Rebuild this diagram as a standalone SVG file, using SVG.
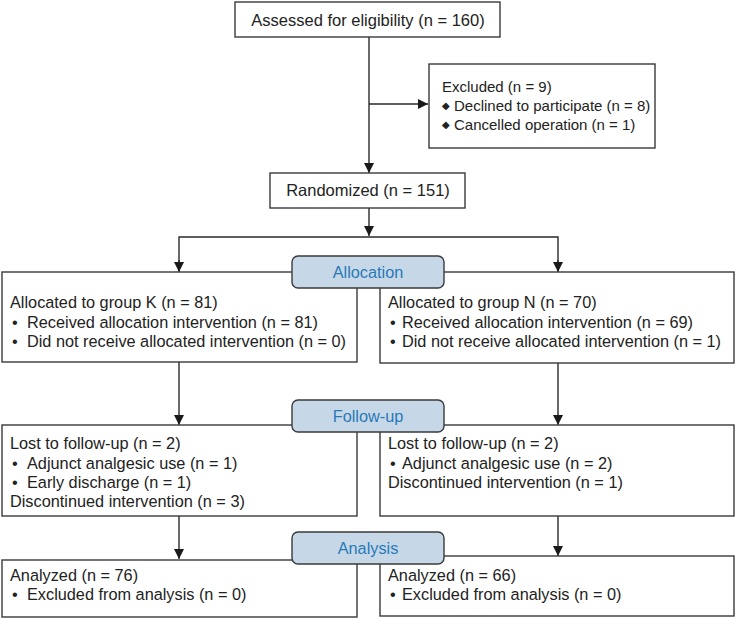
<svg xmlns="http://www.w3.org/2000/svg" width="735" height="619" viewBox="0 0 735 619">
<style>
.box{fill:#fff;stroke:#3a3a3a;stroke-width:1.4}
.lbl{fill:#c6d8e7;stroke:#3a3a3a;stroke-width:1.4}
.t{font-family:"Liberation Sans",Arial,sans-serif;font-size:16.3px;fill:#222}
.s{font-family:"Liberation Sans",Arial,sans-serif;font-size:15px;fill:#222}
.b{font-family:"Liberation Sans",Arial,sans-serif;font-size:16.5px;fill:#222;text-anchor:middle}
.lt{font-family:"Liberation Sans",Arial,sans-serif;font-size:16.3px;fill:#2a78b8;text-anchor:middle}
.ln{stroke:#2a2a2a;stroke-width:1.4;fill:none}
</style>
<defs>
<marker id="ah" viewBox="0 0 10 10" refX="10" refY="5" markerWidth="10" markerHeight="10" markerUnits="userSpaceOnUse" orient="auto">
<path d="M0,0 L10,5 L0,10 Z" fill="#1a1a1a"/>
</marker>
</defs>
<g id="connectors">
<line class="ln" x1="369" y1="37" x2="369" y2="173" marker-end="url(#ah)"/>
<line class="ln" x1="369" y1="104" x2="428" y2="104" marker-end="url(#ah)"/>
<line class="ln" x1="369" y1="208" x2="369" y2="236" marker-end="url(#ah)"/>
<polyline class="ln" points="179,271 179,237 558,237 558,271"/>
<line class="ln" x1="179" y1="260" x2="179" y2="272" marker-end="url(#ah)"/>
<line class="ln" x1="558" y1="260" x2="558" y2="272" marker-end="url(#ah)"/>
<line class="ln" x1="179" y1="362" x2="179" y2="425" marker-end="url(#ah)"/>
<line class="ln" x1="558" y1="363" x2="558" y2="425" marker-end="url(#ah)"/>
<line class="ln" x1="179" y1="516" x2="179" y2="559" marker-end="url(#ah)"/>
<line class="ln" x1="558" y1="516" x2="558" y2="556" marker-end="url(#ah)"/>
</g>
<g id="assessed">
<rect class="box" x="235" y="2" width="265" height="35"/>
<text class="b" x="368" y="26">Assessed for eligibility (n = 160)</text>
</g>
<g id="excluded">
<rect class="box" x="429" y="64" width="226" height="84"/>
<text class="s" x="442" y="92">Excluded (n = 9)</text>
<text class="s" x="442" y="111"><tspan font-size="10" dy="-2">◆</tspan><tspan dy="2" x="454">Declined to participate (n = 8)</tspan></text>
<text class="s" x="442" y="129.5"><tspan font-size="10" dy="-2">◆</tspan><tspan dy="2" x="454">Cancelled operation (n = 1)</tspan></text>
</g>
<g id="randomized">
<rect class="box" x="270" y="173" width="195" height="35"/>
<text class="b" x="368" y="196">Randomized (n = 151)</text>
</g>
<g id="groupK">
<rect class="box" x="2" y="272" width="355" height="90"/>
<text class="t" x="10" y="308">Allocated to group K (n = 81)</text>
<text class="t" x="12" y="328">•</text><text class="t" x="27" y="328">Received allocation intervention (n = 81)</text>
<text class="t" x="12" y="347">•</text><text class="t" x="27" y="347">Did not receive allocated intervention (n = 0)</text>
</g>
<g id="groupN">
<rect class="box" x="380" y="272" width="354" height="91"/>
<text class="t" x="388" y="308">Allocated to group N (n = 70)</text>
<text class="t" x="390" y="328">•</text><text class="t" x="402" y="328">Received allocation intervention (n = 69)</text>
<text class="t" x="390" y="347">•</text><text class="t" x="402" y="347">Did not receive allocated intervention (n = 1)</text>
</g>
<g id="allocation">
<rect class="lbl" x="292" y="256" width="152" height="32" rx="6"/>
<text class="lt" x="368" y="278">Allocation</text>
</g>
<g id="followK">
<rect class="box" x="2" y="425" width="355" height="91"/>
<text class="t" x="10" y="449">Lost to follow-up (n = 2)</text>
<text class="t" x="12" y="468.5">•</text><text class="t" x="27" y="468.5">Adjunct analgesic use (n = 1)</text>
<text class="t" x="12" y="488">•</text><text class="t" x="27" y="488">Early discharge (n = 1)</text>
<text class="t" x="10" y="507">Discontinued intervention (n = 3)</text>
</g>
<g id="followN">
<rect class="box" x="380" y="425" width="354" height="91"/>
<text class="t" x="388" y="449">Lost to follow-up (n = 2)</text>
<text class="t" x="390" y="468.5">•</text><text class="t" x="402" y="468.5">Adjunct analgesic use (n = 2)</text>
<text class="t" x="388" y="488">Discontinued intervention (n = 1)</text>
</g>
<g id="followup">
<rect class="lbl" x="292" y="400" width="152" height="32" rx="6"/>
<text class="lt" x="368" y="422">Follow-up</text>
</g>
<g id="analyzedK">
<rect class="box" x="2" y="560" width="355" height="57"/>
<text class="t" x="10" y="581">Analyzed (n = 76)</text>
<text class="t" x="12" y="599.5">•</text><text class="t" x="27" y="599.5">Excluded from analysis (n = 0)</text>
</g>
<g id="analyzedN">
<rect class="box" x="380" y="556" width="354" height="60"/>
<text class="t" x="388" y="581">Analyzed (n = 66)</text>
<text class="t" x="390" y="599.5">•</text><text class="t" x="402" y="599.5">Excluded from analysis (n = 0)</text>
</g>
<g id="analysis">
<rect class="lbl" x="292" y="532" width="152" height="32" rx="6"/>
<text class="lt" x="368" y="554">Analysis</text>
</g>
</svg>
